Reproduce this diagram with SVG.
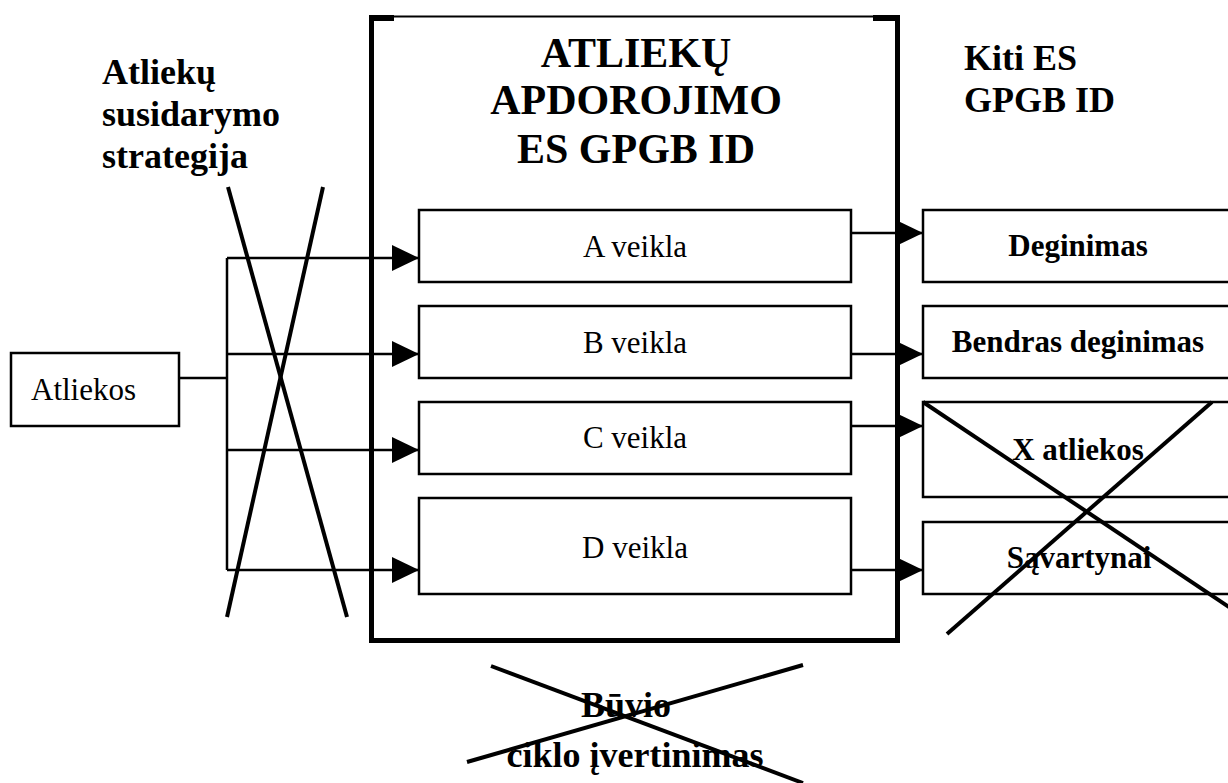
<svg xmlns="http://www.w3.org/2000/svg" width="1228" height="783" viewBox="0 0 1228 783">
<style>
text{font-family:"Liberation Serif","Times New Roman",serif;fill:#000}
.n{font-size:31px}
.b{font-weight:bold;font-size:36px}
.t{font-weight:bold;font-size:42px}
.bs{font-weight:bold;font-size:31px}
.box{fill:#fff;stroke:#000;stroke-width:2.5}
.con{fill:none;stroke:#000;stroke-width:2.5}
.x{stroke:#000;stroke-width:4;fill:none}
.thick{fill:#000}
</style>
<defs>
<marker id="ah" markerUnits="userSpaceOnUse" markerWidth="28" markerHeight="28" refX="27" refY="13" orient="auto">
<path d="M0,0 L27,13 L0,26 Z" fill="#000"/>
</marker>
</defs>
<rect width="1228" height="783" fill="#fff"/>

<g id="main-frame">
<line x1="372" y1="16.5" x2="897" y2="16.5" stroke="#000" stroke-width="2"/>
<rect class="thick" x="369" y="15" width="25" height="6"/>
<rect class="thick" x="873" y="15" width="27" height="6"/>
<rect class="thick" x="369" y="15" width="5" height="628"/>
<rect class="thick" x="895" y="15" width="5" height="628"/>
<rect class="thick" x="369" y="638" width="531" height="5"/>
<text class="t" text-anchor="middle" x="636" y="67">ATLIEKŲ</text>
<text class="t" text-anchor="middle" x="636" y="114">APDOROJIMO</text>
<text class="t" text-anchor="middle" x="636" y="163">ES GPGB ID</text>
</g>

<g id="strategy-label">
<text class="b" x="102" y="84">Atliekų</text>
<text class="b" x="102" y="126">susidarymo</text>
<text class="b" x="102" y="168">strategija</text>
</g>

<g id="other-bref-label">
<text class="b" x="964" y="70">Kiti ES</text>
<text class="b" x="964" y="112">GPGB ID</text>
</g>

<g id="atliekos">
<rect class="box" x="11" y="353" width="168" height="73"/>
<text class="n" x="31" y="400">Atliekos</text>
</g>

<g id="veikla-a">
<rect class="box" x="419" y="210" width="432" height="72"/>
<text class="n" text-anchor="middle" x="635" y="257">A veikla</text>
</g>
<g id="veikla-b">
<rect class="box" x="419" y="306" width="432" height="72"/>
<text class="n" text-anchor="middle" x="635" y="353">B veikla</text>
</g>
<g id="veikla-c">
<rect class="box" x="419" y="402" width="432" height="72"/>
<text class="n" text-anchor="middle" x="635" y="448">C veikla</text>
</g>
<g id="veikla-d">
<rect class="box" x="419" y="498" width="432" height="96"/>
<text class="n" text-anchor="middle" x="635" y="558">D veikla</text>
</g>

<g id="deginimas">
<rect class="box" x="923" y="210" width="312" height="72"/>
<text class="bs" text-anchor="middle" x="1078" y="256">Deginimas</text>
</g>
<g id="bendras-deginimas">
<rect class="box" x="923" y="306" width="312" height="72"/>
<text class="bs" text-anchor="middle" x="1078" y="352">Bendras deginimas</text>
</g>
<g id="x-atliekos">
<rect class="box" x="923" y="402" width="312" height="95"/>
<text class="bs" text-anchor="middle" x="1078" y="460">X atliekos</text>
</g>
<g id="savartynai">
<rect class="box" x="923" y="522" width="312" height="72"/>
<text class="bs" text-anchor="middle" x="1079" y="568">Sąvartynai</text>
</g>

<g id="lifecycle-label">
<text class="b" text-anchor="middle" x="626" y="717">Būvio</text>
<text class="b" text-anchor="middle" x="635" y="767">ciklo įvertinimas</text>
</g>

<g id="connectors">
<path class="con" d="M179,378 H227 M227,258 V570"/>
<line class="con" x1="227" y1="258" x2="419" y2="258" marker-end="url(#ah)"/>
<line class="con" x1="227" y1="354" x2="419" y2="354" marker-end="url(#ah)"/>
<line class="con" x1="227" y1="450" x2="419" y2="450" marker-end="url(#ah)"/>
<line class="con" x1="227" y1="570" x2="419" y2="570" marker-end="url(#ah)"/>
<line class="con" x1="851" y1="233" x2="923" y2="233" marker-end="url(#ah)"/>
<line class="con" x1="851" y1="354" x2="923" y2="354" marker-end="url(#ah)"/>
<line class="con" x1="851" y1="426" x2="923" y2="426" marker-end="url(#ah)"/>
<line class="con" x1="851" y1="570" x2="923" y2="570" marker-end="url(#ah)" stroke-width="3"/>
</g>

<g id="cross-outs">
<line class="x" x1="228" y1="187" x2="347" y2="617"/>
<line class="x" x1="323" y1="187" x2="227" y2="617"/>
<line class="x" x1="923" y1="402" x2="1232" y2="609" stroke-width="3"/>
<line class="x" x1="1212" y1="402" x2="947" y2="634" stroke-width="3"/>
<line class="x" x1="491" y1="666" x2="803" y2="783"/>
<line class="x" x1="467" y1="762" x2="803" y2="665"/>
</g>
</svg>
